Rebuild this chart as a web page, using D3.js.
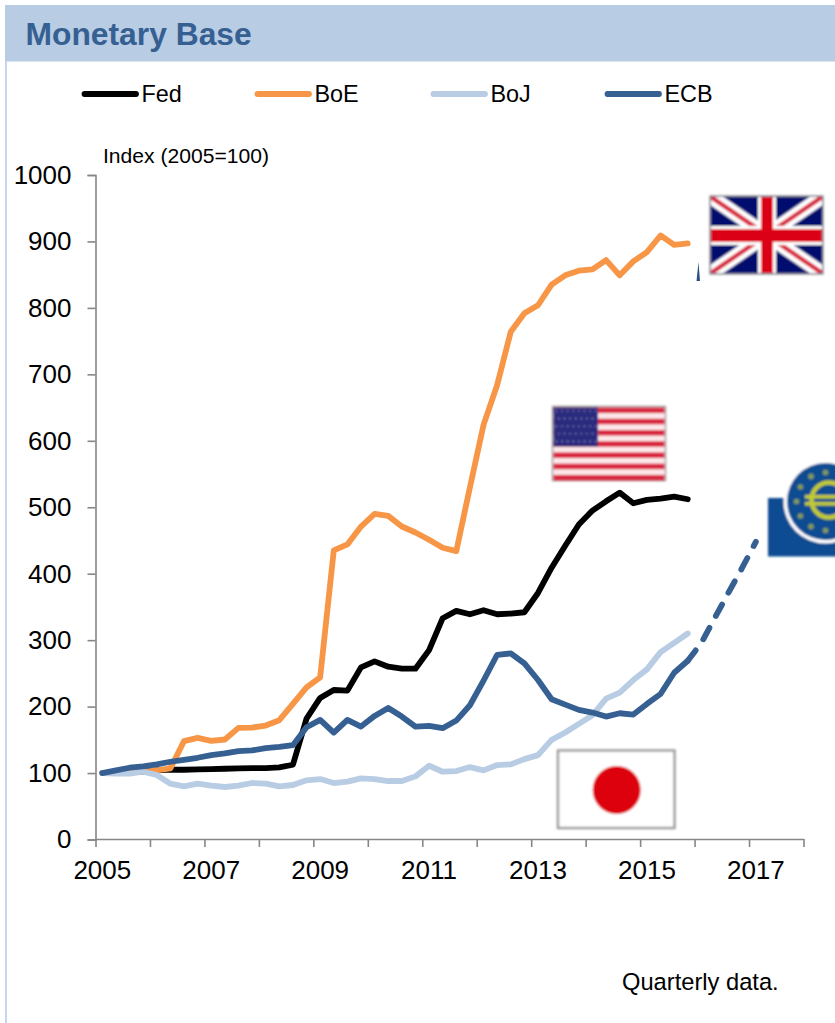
<!DOCTYPE html>
<html>
<head>
<meta charset="utf-8">
<script src="https://cdn.jsdelivr.net/npm/d3@7"></script>
<style>
html, body { margin: 0; padding: 0; background: #fff; }
svg { display: block; font-family: "Liberation Sans", Arial, sans-serif; }
.axis path, .axis line { stroke: #868686; stroke-width: 1.6; }
.axis text { font-size: 26px; fill: #000; font-family: "Liberation Sans", Arial, sans-serif; }
</style>
</head>
<body>
<script>
var width = 835
var height = 1023

var years = [2005, 2006, 2007, 2008, 2009, 2010, 2011, 2012, 2013, 2014, 2015, 2016, 2017, 2018]
var year_labels = [2005, 2007, 2009, 2011, 2013, 2015, 2017]
var y_ticks = [0, 100, 200, 300, 400, 500, 600, 700, 800, 900, 1000]

// quarterly values, 2005Q1 to 2015Q4
var fed = [100, 100, 101, 102, 104, 105, 105, 105.5, 106, 106.5, 107, 107.5, 107.5, 108.5, 112.5, 182, 213, 225, 224, 259, 268, 260, 257, 257, 285, 333, 344, 339, 345, 339, 340, 342, 371, 409, 442, 474, 495, 509, 522, 506, 511, 513, 516, 512]
var boe = [100, 100, 101, 102, 104, 107, 148, 153, 148.5, 150.5, 168, 168.5, 171.5, 179.5, 204, 229, 244, 435, 444, 471, 490, 487, 471, 462, 451, 439, 434, 530, 624, 684, 764, 792, 804, 835, 849, 856, 858, 872, 849, 870, 884, 909, 895, 897]
var boj = [100, 99, 99, 102, 97, 84, 80, 84, 81, 79, 81, 85, 84, 80, 82, 89, 91, 85, 87, 92, 91, 88, 88, 95, 111, 102, 103, 109, 104, 112, 113, 121, 127, 150, 161, 174, 187, 212, 221, 240, 256, 282, 296, 310]
var ecb = [100, 104, 108, 110, 113, 117, 120, 123, 127, 129.5, 133, 134, 137.5, 139.5, 142, 169, 180, 161, 180, 170, 186, 198, 185, 170, 171, 167.5, 179, 202, 239, 278, 280, 265, 240, 211, 203, 195, 191, 185, 190, 188, 204, 219, 251, 269]
// dashed part, 2015Q4 to 2017Q1
var ecb_projection = [269, 296, 334, 372, 409, 448]

var series_names = ["Fed", "BoE", "BoJ", "ECB"]
var series_colors = ["#000000", "#f79646", "#b8cce4", "#366092"]
var legend_x = [82, 255, 431, 605]

var quarters = []
years.slice(0, 13).forEach(function(yr) {
    [1, 2, 3, 4].forEach(function(q) { quarters.push(yr + "Q" + q) })
})

var x = d3.scaleBand()
.domain(quarters)
.range([95.5, 803.5])

var x_years = d3.scaleLinear()
.domain([2005, 2018])
.range([95.5, 803.5])

var y = d3.scaleLinear()
.domain([0, 1000])
.range([839.5, 175])

function xpos(i) { return x(quarters[i]) + x.bandwidth() / 2 }

var svg = d3.select("body").append("svg")
.attr("width", width)
.attr("height", height)

var defs = svg.append("defs")
defs.append("filter").attr("id", "soft")
.attr("x", "-5%").attr("y", "-5%").attr("width", "110%").attr("height", "110%")
.append("feGaussianBlur").attr("stdDeviation", 1)
defs.append("clipPath").attr("id", "uk_clip")
.append("rect").attr("x", 711).attr("y", 197).attr("width", 111).attr("height", 76)

// header band and left rule
svg.append("rect").attr("x", 5).attr("y", 5).attr("width", 830).attr("height", 56.5).attr("fill", "#b8cce4")
svg.append("rect").attr("x", 5).attr("y", 61).attr("width", 2).attr("height", 962).attr("fill", "#c6d5ec")
svg.append("text").attr("x", 25.5).attr("y", 45)
.style("font-size", "31.8px").style("font-weight", "bold").attr("fill", "#366092")
.text("Monetary Base")

// legend
series_names.forEach(function(name, i) {
    svg.append("line")
    .attr("x1", legend_x[i] + 2.5).attr("x2", legend_x[i] + 54)
    .attr("y1", 94).attr("y2", 94)
    .attr("stroke", series_colors[i]).attr("stroke-width", 5.8).attr("stroke-linecap", "round")
    svg.append("text")
    .attr("x", legend_x[i] + 59.5).attr("y", 101.5)
    .style("font-size", "23.4px").attr("fill", "#000")
    .text(name)
})

svg.append("text").attr("x", 103).attr("y", 163)
.style("font-size", "21.1px").attr("fill", "#000")
.text("Index (2005=100)")

svg.append("text").attr("x", 622).attr("y", 990)
.style("font-size", "23.7px").attr("fill", "#000")
.text("Quarterly data.")

// axes
svg.append("g").attr("class", "axis")
.attr("transform", "translate(95.5,0)")
.call(d3.axisLeft(y).tickValues(y_ticks).tickSize(8).tickPadding(16).tickFormat(d3.format("d")))

svg.append("g").attr("class", "axis")
.attr("transform", "translate(0,839)")
.call(d3.axisBottom(x_years).tickValues(years).tickSize(8).tickSizeOuter(0).tickFormat(""))

var label_axis = svg.append("g").attr("class", "axis")
.attr("transform", "translate(0,839)")
.call(d3.axisBottom(x).tickValues(year_labels.map(function(d) { return d + "Q1" }))
    .tickSize(0).tickPadding(22).tickFormat(function(d) { return d.slice(0, 4) }))
label_axis.select(".domain").remove()

// lines
var line = d3.line()
.x(function(d, i) { return xpos(i) })
.y(function(d) { return y(d) })

function draw_line(values, color) {
    return svg.append("path")
    .attr("d", line(values))
    .attr("fill", "none")
    .attr("stroke", color)
    .attr("stroke-width", 5.8)
    .attr("stroke-linejoin", "round")
    .attr("stroke-linecap", "round")
}

draw_line(fed, series_colors[0])
draw_line(boe, series_colors[1])
draw_line(boj, series_colors[2])
draw_line(ecb, series_colors[3])

svg.append("path")
.attr("d", d3.line()
    .x(function(d, i) { return xpos(i + 43) })
    .y(function(d) { return y(d) })(ecb_projection))
.attr("fill", "none")
.attr("stroke", series_colors[3])
.attr("stroke-width", 5.8)
.attr("stroke-linecap", "round")
.attr("stroke-dasharray", "13 13.5")

// flags and logo
function draw_uk() {
    var g = svg.append("g").attr("filter", "url(#soft)")
    g.append("rect").attr("x", 710).attr("y", 196).attr("width", 113).attr("height", 78)
    .attr("fill", "#00106e").attr("stroke", "#a0a0a0").attr("stroke-width", 1.5)
    var inner = g.append("g").attr("clip-path", "url(#uk_clip)")
    var diagonals = [[711, 197, 822, 273], [711, 273, 822, 197]]
    diagonals.forEach(function(d) {
        inner.append("line").attr("x1", d[0]).attr("y1", d[1]).attr("x2", d[2]).attr("y2", d[3])
        .attr("stroke", "#fff").attr("stroke-width", 14)
        inner.append("line").attr("x1", d[0]).attr("y1", d[1]).attr("x2", d[2]).attr("y2", d[3])
        .attr("stroke", "#d8203a").attr("stroke-width", 4.5)
    })
    inner.append("rect").attr("x", 758).attr("y", 197).attr("width", 18).attr("height", 76).attr("fill", "#fff")
    inner.append("rect").attr("x", 711).attr("y", 226).attr("width", 111).attr("height", 19).attr("fill", "#fff")
    inner.append("rect").attr("x", 761).attr("y", 197).attr("width", 12).attr("height", 76).attr("fill", "#dc0014")
    inner.append("rect").attr("x", 711).attr("y", 229).attr("width", 111).attr("height", 13).attr("fill", "#dc0014")
}

function draw_us() {
    var g = svg.append("g").attr("filter", "url(#soft)")
    g.append("rect").attr("x", 552.5).attr("y", 406.5).attr("width", 113).attr("height", 74)
    .attr("fill", "#fde8ea").attr("stroke", "#a0a0a0").attr("stroke-width", 1.5)
    d3.range(7).forEach(function(i) {
        g.append("rect").attr("x", 553.5).attr("y", 407.5 + i * 11.23)
        .attr("width", 111).attr("height", 5.6).attr("fill", "#d9263f")
    })
    g.append("rect").attr("x", 553.5).attr("y", 407.5).attr("width", 44.5).attr("height", 39).attr("fill", "#2a2a7e")
    d3.range(5).forEach(function(r) {
        d3.range(8).forEach(function(c) {
            g.append("circle").attr("cx", 556.5 + c * 5.6 + (r % 2) * 2.4).attr("cy", 411 + r * 7.6)
            .attr("r", 0.8).attr("fill", "#8f8fc8")
        })
    })
}

function draw_japan() {
    var g = svg.append("g").attr("filter", "url(#soft)")
    g.append("rect").attr("x", 558).attr("y", 750.5).attr("width", 116.5).attr("height", 77.5)
    .attr("fill", "#fff").attr("stroke", "#999").attr("stroke-width", 2.4)
    g.append("circle").attr("cx", 616.7).attr("cy", 790).attr("r", 24).attr("fill", "#dd0008")
}

function draw_ecb() {
    var g = svg.append("g").attr("filter", "url(#soft)")
    g.append("rect").attr("x", 768).attr("y", 498).attr("width", 75).attr("height", 58.5).attr("fill", "#0d4c92")
    g.append("circle").attr("cx", 825.5).attr("cy", 501.5).attr("r", 42).attr("fill", "#fff")
    g.append("circle").attr("cx", 825.5).attr("cy", 501.5).attr("r", 38.5).attr("fill", "#0d4c92")
    d3.range(12).forEach(function(i) {
        var a = i * Math.PI / 6
        g.append("circle").attr("cx", 825.5 + 29 * Math.cos(a)).attr("cy", 501.5 + 29 * Math.sin(a))
        .attr("r", 2.8).attr("fill", "#7f9a5a")
    })
    g.append("circle").attr("cx", 829).attr("cy", 500).attr("r", 17.5)
    .attr("fill", "none").attr("stroke", "#c2cb30").attr("stroke-width", 4.5)
    g.append("rect").attr("x", 805).attr("y", 495).attr("width", 35).attr("height", 3.6).attr("fill", "#c2cb30")
    g.append("rect").attr("x", 805).attr("y", 502).attr("width", 35).attr("height", 3.6).attr("fill", "#c2cb30")
}

draw_uk()
draw_us()
draw_japan()
draw_ecb()

// small sliver left over next to the UK flag in the original
svg.append("path").attr("d", "M698.5,262L700,281L696.5,281Z").attr("fill", "#2b4f86")
</script>
</body>
</html>
